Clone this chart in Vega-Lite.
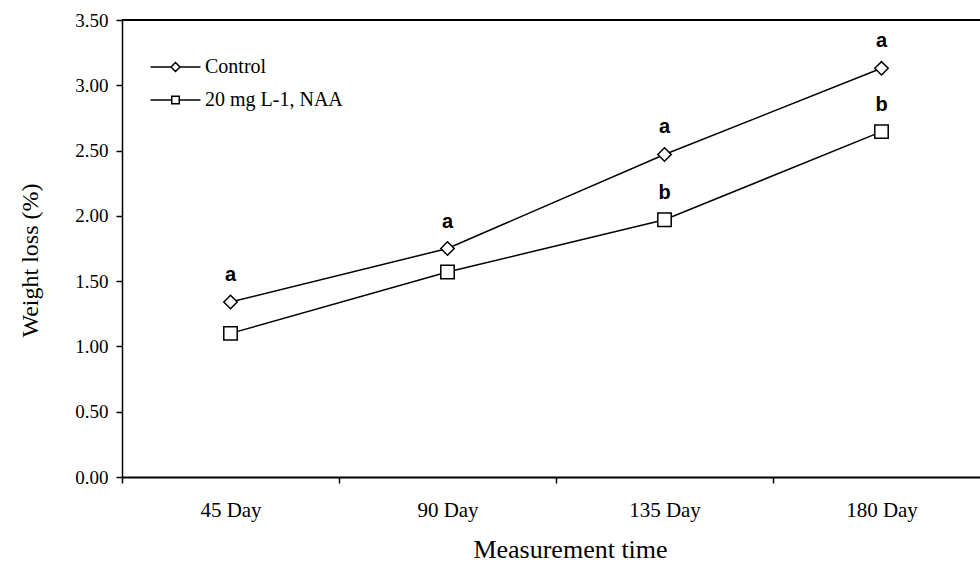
{
  "$schema": "https://vega.github.io/schema/vega-lite/v6.json",
  "width": 858,
  "height": 457,
  "autosize": {"type": "none"},
  "padding": {"left": 122, "top": 20, "right": 0, "bottom": 91},
  "background": "white",
  "config": {"view": {"stroke": null}, "font": "Liberation Serif"},
  "data": {
    "values": [
      {"time": "45 Day", "series": "Control", "value": 1.34, "letter": "a"},
      {"time": "90 Day", "series": "Control", "value": 1.75, "letter": "a"},
      {"time": "135 Day", "series": "Control", "value": 2.47, "letter": "a"},
      {"time": "180 Day", "series": "Control", "value": 3.13, "letter": "a"},
      {"time": "45 Day", "series": "20 mg L-1, NAA", "value": 1.10, "letter": ""},
      {"time": "90 Day", "series": "20 mg L-1, NAA", "value": 1.57, "letter": ""},
      {"time": "135 Day", "series": "20 mg L-1, NAA", "value": 1.97, "letter": "b"},
      {"time": "180 Day", "series": "20 mg L-1, NAA", "value": 2.645, "letter": "b"}
    ]
  },
  "layer": [
    {
      "mark": {"type": "rule", "color": "black", "strokeWidth": 1.5},
      "encoding": {"y": {"datum": 3.5, "type": "quantitative"}}
    },
    {
      "mark": {"type": "line", "color": "black", "strokeWidth": 1.5},
      "encoding": {
        "x": {
          "field": "time", "type": "ordinal",
          "sort": ["45 Day", "90 Day", "135 Day", "180 Day"],
          "scale": {"type": "band", "range": [0, 868], "paddingInner": 0, "paddingOuter": 0},
          "axis": {
            "title": "Measurement time",
            "titleFont": "Liberation Serif", "titleFontSize": 26, "titleFontWeight": "normal",
            "titleColor": "black", "titlePadding": 16, "titleX": 448,
            "labelFont": "Liberation Serif", "labelFontSize": 21, "labelColor": "black",
            "labelPadding": 16, "labelAngle": 0,
            "tickBand": "extent", "tickSize": 6, "tickColor": "black", "tickWidth": 1.5,
            "domainColor": "black", "domainWidth": 2, "grid": false
          }
        },
        "y": {
          "field": "value", "type": "quantitative",
          "scale": {"domain": [0, 3.5], "nice": false},
          "axis": {
            "title": "Weight loss (%)",
            "titleFont": "Liberation Serif", "titleFontSize": 24, "titleFontWeight": "normal",
            "titleColor": "black", "titlePadding": 32, "titleY": 240,
            "labelFont": "Liberation Serif", "labelFontSize": 19, "labelColor": "black",
            "format": ".2f", "values": [0, 0.5, 1, 1.5, 2, 2.5, 3, 3.5],
            "tickSize": 6, "labelPadding": 8, "tickColor": "black", "tickWidth": 1.5,
            "domainColor": "black", "domainWidth": 1.5, "grid": false
          }
        },
        "detail": {"field": "series"}
      }
    },
    {
      "transform": [{"filter": "datum.series === 'Control'"}],
      "mark": {"type": "point", "shape": "diamond", "filled": true, "color": "white", "stroke": "black", "strokeWidth": 1.5, "opacity": 1, "size": 180},
      "encoding": {
        "x": {"field": "time", "type": "ordinal", "sort": ["45 Day", "90 Day", "135 Day", "180 Day"]},
        "y": {"field": "value", "type": "quantitative"}
      }
    },
    {
      "transform": [{"filter": "datum.series !== 'Control'"}],
      "mark": {"type": "point", "shape": "square", "filled": true, "color": "white", "stroke": "black", "strokeWidth": 1.5, "opacity": 1, "size": 180},
      "encoding": {
        "x": {"field": "time", "type": "ordinal", "sort": ["45 Day", "90 Day", "135 Day", "180 Day"]},
        "y": {"field": "value", "type": "quantitative"}
      }
    },
    {
      "mark": {"type": "point", "filled": true, "color": "white", "stroke": "black", "strokeWidth": 1.2, "opacity": 1, "size": 0},
      "encoding": {
        "x": {"field": "time", "type": "ordinal", "sort": ["45 Day", "90 Day", "135 Day", "180 Day"]},
        "y": {"field": "value", "type": "quantitative"},
        "shape": {
          "field": "series", "type": "nominal",
          "scale": {
            "domain": ["Control", "20 mg L-1, NAA"],
            "range": [
              "M-5,0L-0.9,0M-0.9,0L0,-0.9L0.9,0L0,0.9ZM0.9,0L5,0",
              "M-5,0L-0.75,0M-0.75,-0.75L0.75,-0.75L0.75,0.75L-0.75,0.75ZM0.75,0L5,0"
            ]
          },
          "legend": {
            "orient": "none", "legendX": 43.5, "legendY": 37, "title": null,
            "labelFont": "Liberation Serif", "labelFontSize": 20, "labelColor": "black",
            "labelOffset": 19.5, "rowPadding": 13
          }
        }
      }
    },
    {
      "mark": {"type": "text", "dy": -27, "font": "Liberation Sans", "fontWeight": "bold", "fontSize": 20, "color": "black", "baseline": "middle"},
      "encoding": {
        "x": {"field": "time", "type": "ordinal", "sort": ["45 Day", "90 Day", "135 Day", "180 Day"]},
        "y": {"field": "value", "type": "quantitative"},
        "text": {"field": "letter"}
      }
    }
  ]
}
